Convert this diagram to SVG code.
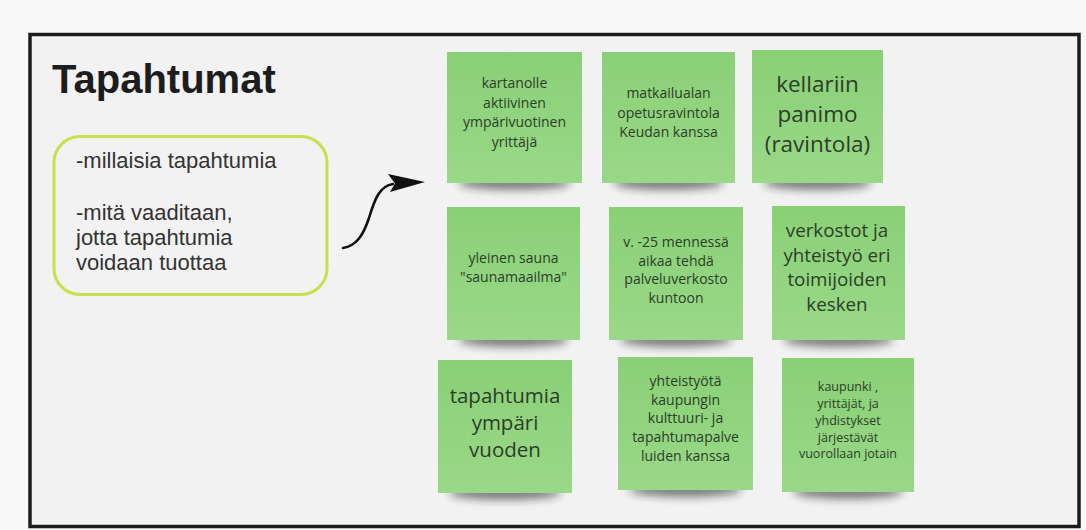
<svg xmlns="http://www.w3.org/2000/svg" width="1086" height="530" viewBox="0 0 1086 530">
<defs>
<linearGradient id="g" x1="0" y1="0" x2="0" y2="1">
<stop offset="0" stop-color="#8ad076"/>
<stop offset="1" stop-color="#99d888"/>
</linearGradient>
<filter id="blur" x="-20%" y="-100%" width="140%" height="300%">
<feGaussianBlur stdDeviation="4"/>
</filter>
</defs>
<style>
.frame{fill:#f2f2f2;stroke:#1c1c1c;stroke-width:3.5}
.title{font-family:"Liberation Sans",Arial,sans-serif;font-weight:bold;font-size:40px;fill:#1d1d1d}
.box{fill:none;stroke:#c9df4c;stroke-width:3}
.bt{font-family:"Liberation Sans",Arial,sans-serif;font-size:22px;fill:#333333}
.note{fill:url(#g)}
.sh{fill:#1a1a1a;opacity:0.55;filter:url(#blur)}
.nt{font-family:"Open Sans","Noto Sans",sans-serif;fill:#2c3d28;text-anchor:middle}
.s14{font-size:14px}
.s12{font-size:12.5px}
.s19{font-size:18.8px}
.s21{font-size:20.5px}
.s22{font-size:22.5px}
.conn{fill:none;stroke:#111;stroke-width:2.6;stroke-linecap:round}
</style>
<rect x="0" y="0" width="1086" height="530" fill="#f8f8f8"/>
<rect class="frame" x="30" y="34.5" width="1049" height="492"/>

<g id="title"><text class="title" x="52" y="93">Tapahtumat</text></g>

<g id="questions">
<rect class="box" x="54" y="136.5" width="273" height="158" rx="26"/>
<text class="bt" x="76" y="168">-millaisia tapahtumia</text>
<text class="bt" x="76" y="220">-mitä vaaditaan,</text>
<text class="bt" x="76" y="245">jotta tapahtumia</text>
<text class="bt" x="76" y="270">voidaan tuottaa</text>
</g>

<g id="connectors">
<path class="conn" d="M343,248 C356,246 363,236 369,218 C375,198 380,186 393,184"/>
<polygon points="425,182 388,174 395,183.5 390,192" fill="#111"/>
</g>

<g id="n1">
<ellipse class="sh" cx="514.5" cy="183" rx="56" ry="7"/>
<rect class="note" x="447" y="52" width="135" height="131"/>
<text class="nt s14"><tspan x="514.5" y="88">kartanolle</tspan><tspan x="514.5" y="107.5">aktiivinen</tspan><tspan x="514.5" y="127">ympärivuotinen</tspan><tspan x="514.5" y="146.5">yrittäjä</tspan></text>
</g>
<g id="n2">
<ellipse class="sh" cx="668.5" cy="183" rx="55" ry="7"/>
<rect class="note" x="602" y="52" width="133" height="131"/>
<text class="nt s14"><tspan x="668.5" y="98">matkailualan</tspan><tspan x="668.5" y="117.5">opetusravintola</tspan><tspan x="668.5" y="137">Keudan kanssa</tspan></text>
</g>
<g id="n3">
<ellipse class="sh" cx="817.5" cy="183" rx="54" ry="7"/>
<rect class="note" x="752" y="50" width="131" height="133"/>
<text class="nt s22"><tspan x="817.5" y="92">kellariin</tspan><tspan x="817.5" y="122">panimo</tspan><tspan x="817.5" y="152">(ravintola)</tspan></text>
</g>
<g id="n4">
<ellipse class="sh" cx="513.5" cy="340" rx="55" ry="7"/>
<rect class="note" x="447" y="207" width="133" height="133"/>
<text class="nt s14"><tspan x="513.5" y="263">yleinen sauna</tspan><tspan x="513.5" y="282">"saunamaailma"</tspan></text>
</g>
<g id="n5">
<ellipse class="sh" cx="676" cy="340" rx="56" ry="7"/>
<rect class="note" x="609" y="207" width="134" height="133"/>
<text class="nt s14"><tspan x="676" y="247">v. -25 mennessä</tspan><tspan x="676" y="265.5">aikaa tehdä</tspan><tspan x="676" y="284">palveluverkosto</tspan><tspan x="676" y="302.5">kuntoon</tspan></text>
</g>
<g id="n6">
<ellipse class="sh" cx="838.5" cy="340" rx="55" ry="7"/>
<rect class="note" x="772" y="206" width="133" height="134"/>
<text class="nt s19"><tspan x="837" y="237">verkostot ja</tspan><tspan x="837" y="261.5">yhteistyö eri</tspan><tspan x="837" y="286">toimijoiden</tspan><tspan x="837" y="310.5">kesken</tspan></text>
</g>
<g id="n7">
<ellipse class="sh" cx="505" cy="493" rx="56" ry="7"/>
<rect class="note" x="438" y="360" width="134" height="133"/>
<text class="nt s21"><tspan x="505" y="403">tapahtumia</tspan><tspan x="505" y="430">ympäri</tspan><tspan x="505" y="457">vuoden</tspan></text>
</g>
<g id="n8">
<ellipse class="sh" cx="685.5" cy="490" rx="56" ry="7"/>
<rect class="note" x="618" y="357" width="135" height="133"/>
<text class="nt s14"><tspan x="685.5" y="386">yhteistyötä</tspan><tspan x="685.5" y="404.5">kaupungin</tspan><tspan x="685.5" y="423">kulttuuri- ja</tspan><tspan x="685.5" y="442">tapahtumapalve</tspan><tspan x="685.5" y="461">luiden kanssa</tspan></text>
</g>
<g id="n9">
<ellipse class="sh" cx="848" cy="492" rx="55" ry="7"/>
<rect class="note" x="782" y="358" width="132" height="134"/>
<text class="nt s12"><tspan x="848" y="391">kaupunki ,</tspan><tspan x="848" y="408">yrittäjät, ja</tspan><tspan x="848" y="425">yhdistykset</tspan><tspan x="848" y="441.5">järjestävät</tspan><tspan x="848" y="458">vuorollaan jotain</tspan></text>
</g>
</svg>
